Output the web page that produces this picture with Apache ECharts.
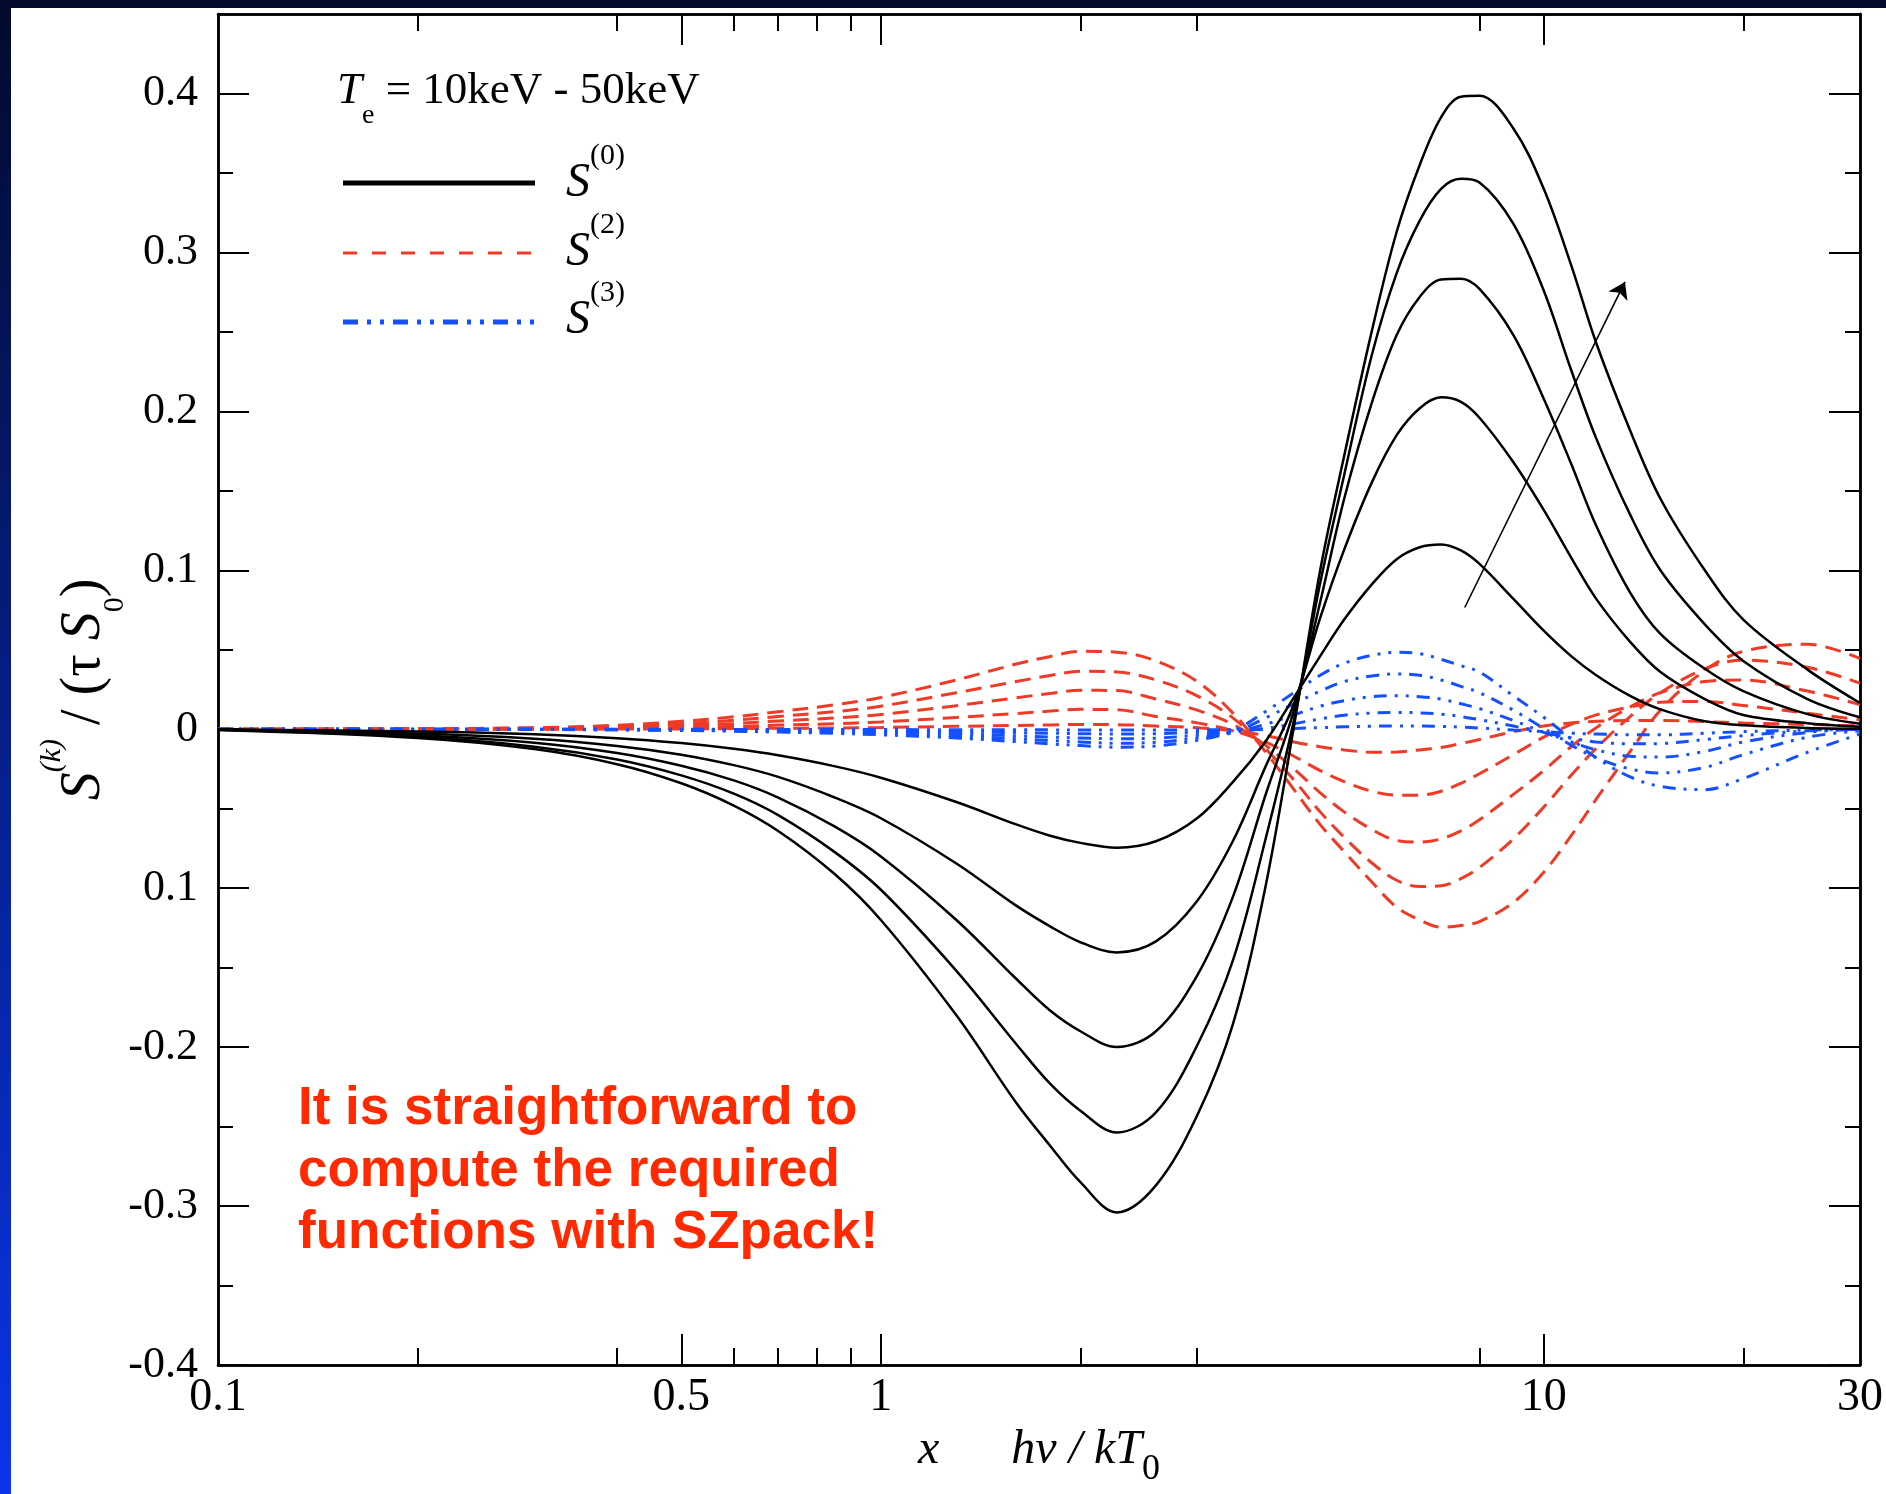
<!DOCTYPE html>
<html>
<head>
<meta charset="utf-8">
<script src="https://cdn.jsdelivr.net/npm/echarts@6/dist/echarts.min.js"></script>
<style>
html, body { margin: 0; padding: 0; }
body { width: 1886px; height: 1494px; position: relative; overflow: hidden;
       background: linear-gradient(#020a2c, #0a35ea); }
#paper { position: absolute; left: 11px; top: 8px; right: 0; bottom: 0; background: #fff; }
#chart { position: absolute; left: 0; top: 0; width: 1886px; height: 1494px; }
</style>
</head>
<body>
<div id="paper"></div>
<div id="chart"></div>
<script>
// x = h nu / kT0, shared sample points of every curve
const xGrid = [0.1, 0.2, 0.3, 0.4, 0.5, 0.6, 0.7, 0.85, 1.0, 1.3, 1.6, 1.8, 2.0, 2.27, 2.6, 3.0, 3.4, 3.8, 4.2, 4.6, 5.0, 5.5, 6.0, 6.5, 7.0, 7.5, 8.0, 9.0, 10, 11, 12, 13.5, 15, 17.5, 20, 25, 30];

// S^(0) curves, Te = 10, 20, 30, 40, 50 keV
const s0_10 = [-0.0001, -0.0014, -0.0032, -0.0056, -0.0087, -0.0123, -0.0164, -0.0232, -0.0305, -0.0458, -0.0599, -0.0670, -0.0715, -0.0745, -0.0705, -0.0560, -0.0330, -0.0080, 0.0200, 0.0460, 0.0690, 0.0910, 0.1070, 0.1145, 0.1162, 0.1125, 0.1040, 0.0820, 0.0620, 0.0460, 0.0340, 0.0210, 0.0125, 0.0050, 0.0025, 0.0008, 0.0003];
const s0_20 = [-0.0002, -0.0027, -0.0060, -0.0105, -0.0160, -0.0226, -0.0300, -0.0428, -0.0560, -0.0845, -0.1110, -0.1240, -0.1340, -0.1404, -0.1335, -0.1080, -0.0700, -0.0240, 0.0160, 0.0700, 0.1130, 0.1550, 0.1850, 0.2020, 0.2088, 0.2060, 0.1960, 0.1680, 0.1380, 0.1080, 0.0820, 0.0550, 0.0360, 0.0190, 0.0090, 0.0038, 0.0016];
const s0_30 = [-0.0003, -0.0038, -0.0085, -0.0150, -0.0230, -0.0322, -0.0430, -0.0610, -0.0800, -0.1200, -0.1570, -0.1770, -0.1900, -0.1999, -0.1900, -0.1550, -0.1050, -0.0420, 0.0120, 0.0800, 0.1450, 0.2050, 0.2480, 0.2720, 0.2830, 0.2835, 0.2770, 0.2480, 0.2080, 0.1670, 0.1280, 0.0860, 0.0600, 0.0380, 0.0240, 0.0095, 0.0035];
const s0_40 = [-0.0004, -0.0048, -0.0110, -0.0190, -0.0290, -0.0405, -0.0540, -0.0770, -0.1010, -0.1520, -0.1980, -0.2230, -0.2400, -0.2537, -0.2410, -0.1990, -0.1450, -0.0700, 0.0060, 0.0920, 0.1600, 0.2350, 0.2870, 0.3200, 0.3400, 0.3463, 0.3440, 0.3180, 0.2760, 0.2260, 0.1830, 0.1350, 0.1000, 0.0660, 0.0430, 0.0190, 0.0075];
const s0_50 = [-0.0005, -0.0055, -0.0125, -0.0220, -0.0340, -0.0480, -0.0640, -0.0908, -0.1200, -0.1800, -0.2350, -0.2620, -0.2850, -0.3040, -0.2870, -0.2430, -0.1850, -0.1000, 0.0020, 0.1000, 0.1720, 0.2500, 0.3130, 0.3550, 0.3850, 0.3980, 0.3985, 0.3780, 0.3400, 0.2920, 0.2430, 0.1880, 0.1450, 0.1000, 0.0690, 0.0375, 0.0165];

// S^(2) curves
const s2_10 = [0, 0, 0, 0.0001, 0.0002, 0.0004, 0.0006, 0.0008, 0.0011, 0.0018, 0.0024, 0.0027, 0.0030, 0.0029, 0.0020, 0.0010, -0.0010, -0.0040, -0.0080, -0.0110, -0.0130, -0.0145, -0.0143, -0.0130, -0.0115, -0.0090, -0.0065, -0.0015, 0.0020, 0.0040, 0.0050, 0.0055, 0.0055, 0.0048, 0.0040, 0.0030, 0.0020];
const s2_20 = [0, 0, 0.0002, 0.0006, 0.0011, 0.0018, 0.0026, 0.0035, 0.0046, 0.0074, 0.0099, 0.0114, 0.0125, 0.0123, 0.0080, 0.0040, -0.0010, -0.0080, -0.0170, -0.0260, -0.0330, -0.0390, -0.0415, -0.0415, -0.0390, -0.0340, -0.0280, -0.0160, -0.0050, 0.0030, 0.0090, 0.0140, 0.0170, 0.0175, 0.0150, 0.0100, 0.0060];
const s2_30 = [0, 0.0001, 0.0005, 0.0012, 0.0023, 0.0036, 0.0052, 0.0071, 0.0093, 0.0148, 0.0198, 0.0225, 0.0245, 0.0243, 0.0190, 0.0120, 0.0030, -0.0100, -0.0250, -0.0400, -0.0520, -0.0630, -0.0700, -0.0710, -0.0690, -0.0640, -0.0570, -0.0410, -0.0260, -0.0110, 0.0010, 0.0140, 0.0230, 0.0300, 0.0310, 0.0240, 0.0155];
const s2_40 = [0, 0.0002, 0.0008, 0.0018, 0.0035, 0.0056, 0.0080, 0.0110, 0.0145, 0.0230, 0.0300, 0.0338, 0.0365, 0.0360, 0.0310, 0.0210, 0.0070, -0.0120, -0.0320, -0.0520, -0.0680, -0.0840, -0.0950, -0.0990, -0.0985, -0.0940, -0.0870, -0.0690, -0.0490, -0.0290, -0.0120, 0.0080, 0.0230, 0.0380, 0.0435, 0.0390, 0.0290];
const s2_50 = [0, 0.0003, 0.0010, 0.0025, 0.0050, 0.0078, 0.0110, 0.0153, 0.0200, 0.0310, 0.0410, 0.0458, 0.0490, 0.0485, 0.0430, 0.0300, 0.0100, -0.0140, -0.0380, -0.0600, -0.0770, -0.0960, -0.1120, -0.1200, -0.1245, -0.1235, -0.1210, -0.1090, -0.0900, -0.0670, -0.0440, -0.0140, 0.0120, 0.0370, 0.0490, 0.0535, 0.0445];

// S^(3) curves
const s3_10 = [0, 0, 0, 0, 0, -0.0001, -0.0001, -0.0001, -0.0002, -0.0003, -0.0004, -0.0004, -0.0005, -0.0005, -0.0005, -0.0004, -0.0003, -0.0002, 0.0005, 0.0010, 0.0015, 0.0019, 0.0020, 0.0020, 0.0018, 0.0013, 0.0008, -0.0005, -0.0015, -0.0025, -0.0030, -0.0035, -0.0035, -0.0025, -0.0015, -0.0005, 0];
const s3_20 = [0, 0, 0, -0.0001, -0.0002, -0.0003, -0.0005, -0.0007, -0.0009, -0.0015, -0.0021, -0.0025, -0.0028, -0.0030, -0.0028, -0.0020, -0.0015, 0.0005, 0.0035, 0.0065, 0.0088, 0.0102, 0.0106, 0.0103, 0.0095, 0.0080, 0.0060, 0.0020, -0.0020, -0.0055, -0.0080, -0.0092, -0.0090, -0.0065, -0.0040, -0.0010, 0];
const s3_30 = [0, 0, -0.0001, -0.0002, -0.0004, -0.0006, -0.0009, -0.0013, -0.0018, -0.0029, -0.0041, -0.0049, -0.0055, -0.0060, -0.0056, -0.0038, -0.0020, 0.0030, 0.0090, 0.0145, 0.0180, 0.0205, 0.0211, 0.0205, 0.0190, 0.0160, 0.0130, 0.0055, -0.0020, -0.0080, -0.0130, -0.0170, -0.0175, -0.0140, -0.0080, -0.0020, 0];
const s3_40 = [0, -0.0001, -0.0002, -0.0003, -0.0006, -0.0009, -0.0014, -0.0020, -0.0027, -0.0042, -0.0060, -0.0071, -0.0080, -0.0088, -0.0082, -0.0055, -0.0020, 0.0070, 0.0160, 0.0240, 0.0300, 0.0335, 0.0348, 0.0340, 0.0310, 0.0270, 0.0230, 0.0120, 0.0005, -0.0100, -0.0180, -0.0250, -0.0275, -0.0240, -0.0160, -0.0050, -0.0010];
const s3_50 = [0, -0.0001, -0.0002, -0.0004, -0.0008, -0.0012, -0.0018, -0.0026, -0.0035, -0.0055, -0.0078, -0.0092, -0.0103, -0.0113, -0.0105, -0.0070, -0.0010, 0.0110, 0.0230, 0.0340, 0.0415, 0.0465, 0.0484, 0.0475, 0.0440, 0.0400, 0.0360, 0.0210, 0.0075, -0.0060, -0.0180, -0.0300, -0.0360, -0.0380, -0.0310, -0.0145, -0.0030];

// arrow (increasing Te), in data coordinates
const arrowFrom = [7.6, 0.0766];
const arrowTo = [13.26, 0.2814];

// ticks and labels
const xLabelValues = [0.1, 0.5, 1, 10, 30];
const xLabelText = ['0.1', '0.5', '1', '10', '30'];
const xMajorTicks = [0.5, 1, 10];
const xMinorTicks = [0.2, 0.4, 0.6, 0.7, 0.8, 0.9, 2, 3, 8, 20];
const yMajorTicks = [-0.4, -0.3, -0.2, -0.1, 0, 0.1, 0.2, 0.3, 0.4];
const yLabelText = ['-0.4', '-0.3', '-0.2', '0.1', '0', '0.1', '0.2', '0.3', '0.4'];
const yMinorTicks = [-0.35, -0.25, -0.15, -0.05, 0.05, 0.15, 0.25, 0.35];

const SERIF = 'Liberation Serif';
const RED = '#ee3a26';
const BLUE = '#1450ff';
const BLUE_DASH = [13, 8, 3, 8, 3, 8];
const RED_DASH = [16, 9];
const LEGEND_RED_DASH = [14, 15];
const LEGEND_BLUE_DASH = [15, 9, 4, 9, 4, 9];

function pairs(ys) {
    return xGrid.map((x, i) => [x, ys[i]]);
}

function xAxisPart(position, ticks, len, labels) {
    return {
        type: 'log', logBase: 10, min: 0.1, max: 30, position: position,
        axisLine: { show: true, onZero: false, lineStyle: { color: '#000', width: 2.5 } },
        axisTick: { show: true, inside: true, length: len, customValues: ticks,
                    lineStyle: { color: '#000', width: 2 } },
        axisLabel: labels ? {
            show: true, customValues: xLabelValues, margin: 10,
            fontFamily: SERIF, fontSize: 46, color: '#000',
            formatter: v => {
                const i = xLabelValues.findIndex(t => Math.abs(t - v) < 1e-6);
                return i >= 0 ? xLabelText[i] : '';
            }
        } : { show: false },
        splitLine: { show: false }
    };
}

function yAxisPart(position, ticks, len, labels) {
    return {
        type: 'value', min: -0.4, max: 0.45, position: position,
        axisLine: { show: true, onZero: false, lineStyle: { color: '#000', width: 2.5 } },
        axisTick: { show: true, inside: true, length: len, customValues: ticks,
                    lineStyle: { color: '#000', width: 2 } },
        axisLabel: labels ? {
            show: true, customValues: yMajorTicks, margin: 20,
            fontFamily: SERIF, fontSize: 44, color: '#000',
            formatter: v => {
                const i = yMajorTicks.findIndex(t => Math.abs(t - v) < 1e-6);
                return i >= 0 ? yLabelText[i] : '';
            }
        } : { show: false },
        splitLine: { show: false }
    };
}

function curve(ys, color, width, dash, z) {
    return {
        type: 'line', data: pairs(ys), smooth: 0.35, symbol: 'none', z: z,
        lineStyle: { color: color, width: width, type: dash },
        silent: true
    };
}

const chart = echarts.init(document.getElementById('chart'), null, { renderer: 'canvas' });

// x axis: bottom (labels + major), bottom minor, top major, top minor
const xAxes = [
    xAxisPart('bottom', xMajorTicks, 31, true),
    xAxisPart('bottom', xMinorTicks, 17, false),
    xAxisPart('top', xMajorTicks, 31, false),
    xAxisPart('top', xMinorTicks, 17, false)
];
xAxes[0].name = '{i|x}{n|      }{i|hν / kT}{sub|0}';
xAxes[0].nameLocation = 'middle';
xAxes[0].nameGap = 42;
xAxes[0].nameTextStyle = {
    rich: {
        i: { fontFamily: SERIF, fontStyle: 'italic', fontSize: 48, color: '#000' },
        n: { fontFamily: SERIF, fontSize: 48, color: '#000' },
        sub: { fontFamily: SERIF, fontSize: 36, color: '#000', padding: [40, 0, 0, 0] }
    }
};

const yAxes = [
    yAxisPart('left', yMajorTicks, 31, true),
    yAxisPart('left', yMinorTicks, 15, false),
    yAxisPart('right', yMajorTicks, 31, false),
    yAxisPart('right', yMinorTicks, 15, false)
];
yAxes[0].name = '{s|S}{sup|(k)}{n| / (τ }{s|S}{sub|0}{n|)}';
yAxes[0].nameLocation = 'middle';
yAxes[0].nameRotate = 90;
yAxes[0].nameGap = 87;
yAxes[0].nameMoveOverlap = false;
yAxes[0].nameTextStyle = {
    rich: {
        s: { fontFamily: SERIF, fontStyle: 'italic', fontSize: 56, color: '#000' },
        n: { fontFamily: SERIF, fontSize: 56, color: '#000' },
        sup: { fontFamily: SERIF, fontStyle: 'italic', fontSize: 30, color: '#000', padding: [0, 0, 64, 0] },
        sub: { fontFamily: SERIF, fontSize: 30, color: '#000', padding: [62, 0, 0, 0] }
    }
};

const blackSets = [s0_10, s0_20, s0_30, s0_40, s0_50];
const redSets = [s2_10, s2_20, s2_30, s2_40, s2_50];
const blueSets = [s3_10, s3_20, s3_30, s3_40, s3_50];

const series = [];
redSets.forEach(ys => series.push(curve(ys, RED, 3, RED_DASH, 2)));
blueSets.forEach(ys => series.push(curve(ys, BLUE, 3, BLUE_DASH, 3)));
blackSets.forEach(ys => series.push(curve(ys, '#000', 2.5, 'solid', 4)));

// arrow drawn as a markLine on the hottest S^(0) curve
series[series.length - 1].markLine = {
    silent: true, animation: false,
    symbol: ['none', 'arrow'], symbolSize: 16,
    label: { show: false },
    lineStyle: { color: '#000', width: 1.6, type: 'solid' },
    data: [[{ coord: arrowFrom }, { coord: arrowTo }]]
};

const legendRich = {
    s: { fontFamily: SERIF, fontStyle: 'italic', fontSize: 48, fill: '#000' },
    sup: { fontFamily: SERIF, fontSize: 30, fill: '#000', padding: [0, 0, 54, 0] }
};

const option = {
    animation: false,
    backgroundColor: 'transparent',
    grid: { left: 218, right: 21, top: 14, bottom: 129, containLabel: false },
    xAxis: xAxes,
    yAxis: yAxes,
    series: series,
    graphic: [
        {
            type: 'text', x: 337, y: 91, silent: true,
            style: {
                text: '{i|T}{sub|e}{n| = 10keV - 50keV}',
                verticalAlign: 'middle', align: 'left',
                rich: {
                    i: { fontFamily: SERIF, fontStyle: 'italic', fontSize: 45, fill: '#000' },
                    n: { fontFamily: SERIF, fontSize: 45, fill: '#000' },
                    sub: { fontFamily: SERIF, fontSize: 28, fill: '#000', padding: [50, 0, 0, 0] }
                }
            }
        },
        { type: 'line', silent: true, shape: { x1: 343, y1: 183, x2: 535, y2: 183 },
          style: { stroke: '#000', lineWidth: 5 } },
        { type: 'line', silent: true, shape: { x1: 343, y1: 253, x2: 535, y2: 253 },
          style: { stroke: RED, lineWidth: 3, lineDash: LEGEND_RED_DASH } },
        { type: 'line', silent: true, shape: { x1: 343, y1: 322, x2: 535, y2: 322 },
          style: { stroke: BLUE, lineWidth: 5, lineDash: LEGEND_BLUE_DASH } },
        { type: 'text', x: 566, y: 183, silent: true,
          style: { text: '{s|S}{sup|(0)}', verticalAlign: 'middle', rich: legendRich } },
        { type: 'text', x: 566, y: 252, silent: true,
          style: { text: '{s|S}{sup|(2)}', verticalAlign: 'middle', rich: legendRich } },
        { type: 'text', x: 566, y: 320, silent: true,
          style: { text: '{s|S}{sup|(3)}', verticalAlign: 'middle', rich: legendRich } },
        {
            type: 'text', x: 298, y: 1078, silent: true,
            style: {
                text: 'It is straightforward to\ncompute the required\nfunctions with SZpack!',
                fontFamily: 'Liberation Sans', fontWeight: 'bold', fontSize: 53,
                lineHeight: 62, fill: '#ff2a00', verticalAlign: 'top', align: 'left'
            }
        }
    ]
};

chart.setOption(option);
</script>
</body>
</html>
